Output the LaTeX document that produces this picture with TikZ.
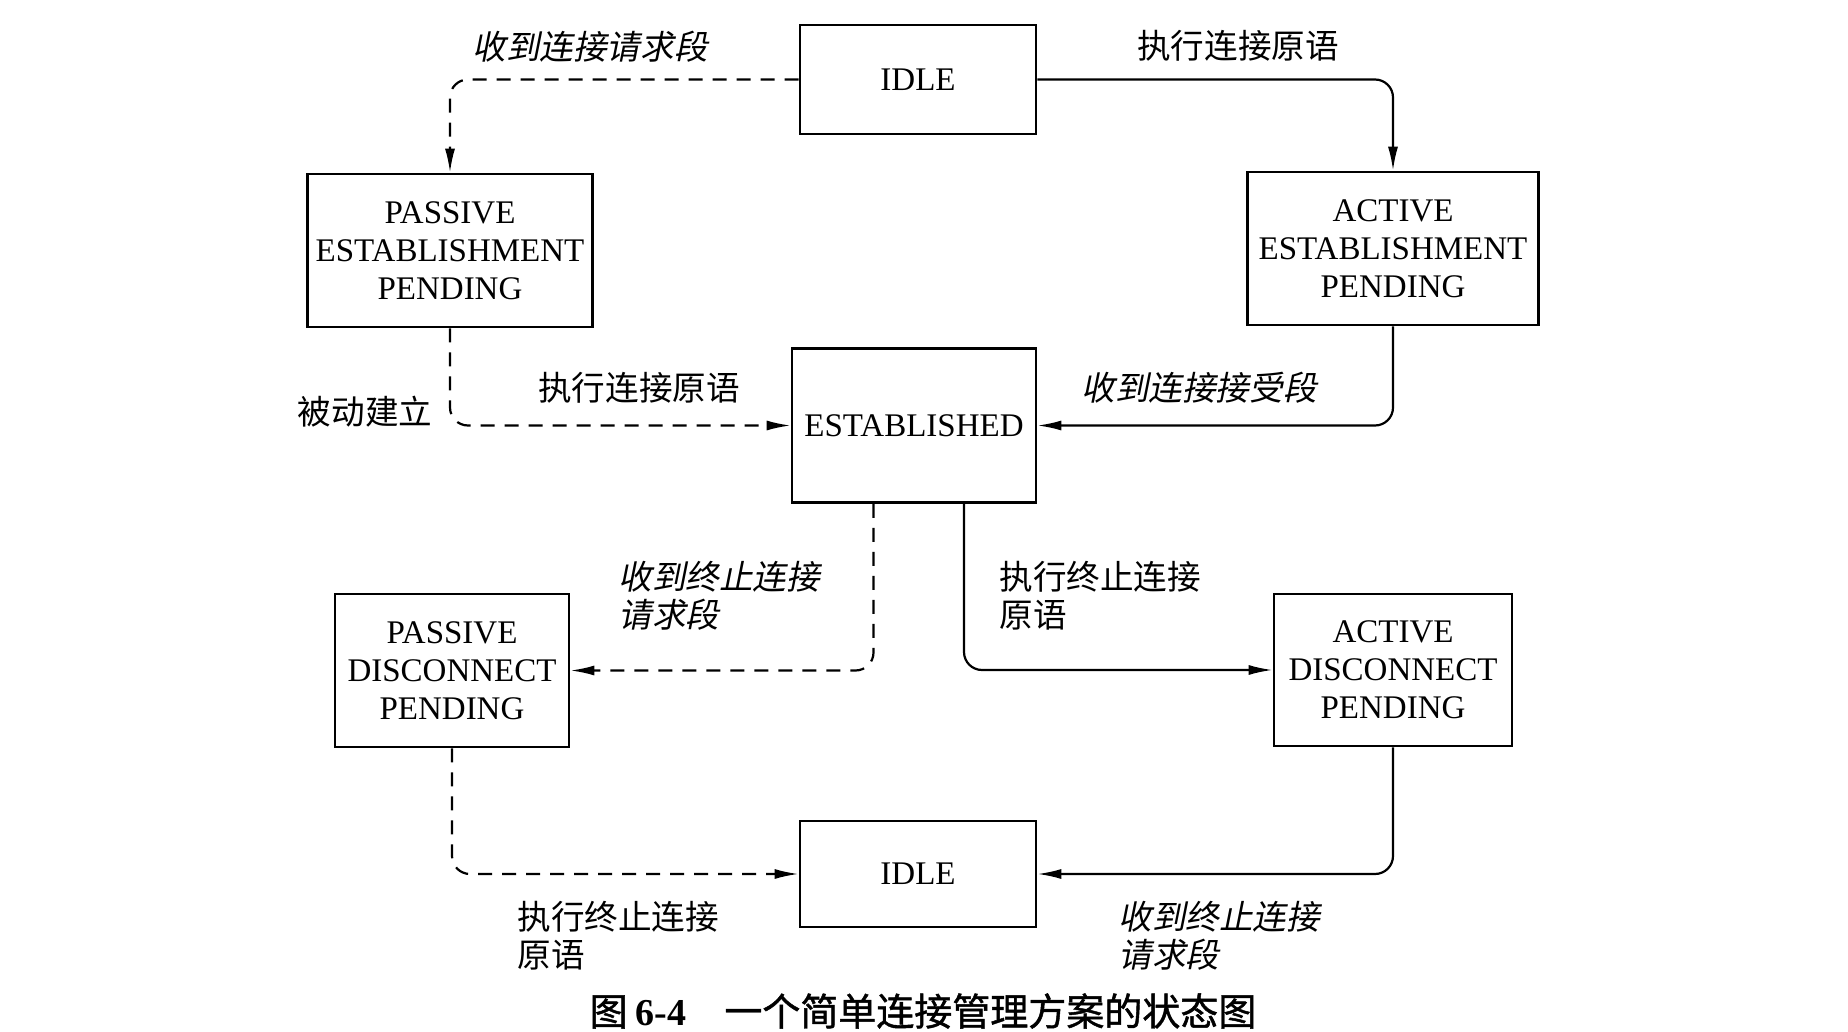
\documentclass[tikz,border=0pt]{standalone}
\usepackage{fontspec}
\setmainfont{Liberation Serif}
\newfontfamily\cjk{Noto Sans CJK SC}
\newfontfamily\cjkit[FakeSlant=0.2]{Noto Sans CJK SC}
\newfontfamily\cjkbold[FakeBold=1.2]{Noto Sans CJK SC}
\usetikzlibrary{arrows.meta}
\begin{document}
\begin{tikzpicture}[x=0.5pt,y=-0.5pt,
  state/.style={draw, line width=1.3pt, inner sep=0pt, align=center,
    font=\fontsize{16.5}{19}\selectfont},
  conn/.style={line width=1.1pt, rounded corners=9pt, -{Latex[length=12pt,width=5pt]}},
  dconn/.style={conn, dash pattern=on 7pt off 5pt},
  lab/.style={font=\cjk\fontsize{16.8}{18.9}\selectfont, inner sep=0pt, align=left},
  ilab/.style={font=\cjkit\fontsize{16.8}{18.9}\selectfont, inner sep=0pt, align=left}]
\fill[white] (0,0) rectangle (1848,1032);
\useasboundingbox (0,0) rectangle (1848,1032);

% states
\node[state, minimum width=118pt, minimum height=54.5pt] (idleA) at (918,79.5) {IDLE};
\node[state, minimum width=142.5pt, minimum height=76.5pt] (pep) at (450,250.5) {PASSIVE\\ESTABLISHMENT\\PENDING};
\node[state, minimum width=145.5pt, minimum height=76.5pt] (aep) at (1393,248.5) {ACTIVE\\ESTABLISHMENT\\PENDING};
\node[state, minimum width=122pt, minimum height=77pt] (est) at (914,425.5) {ESTABLISHED};
\node[state, minimum width=117pt, minimum height=76.5pt] (pdp) at (452,670.5) {PASSIVE\\DISCONNECT\\PENDING};
\node[state, minimum width=119pt, minimum height=76pt] (adp) at (1393,670) {ACTIVE\\DISCONNECT\\PENDING};
\node[state, minimum width=118pt, minimum height=53pt] (idleB) at (918,874) {IDLE};

% connectors
\draw[dconn] (idleA.west) -| (pep.north);
\draw[conn] (idleA.east) -| (aep.north);
\draw[dconn] (pep.south) |- (est.west);
\draw[conn] (aep.south) |- (est.east);
\draw[dconn] ([xshift=-20.25pt]est.south) |- (pdp.east);
\draw[conn] ([xshift=25pt]est.south) |- (adp.west);
\draw[dconn] (pdp.south) |- (idleB.west);
\draw[conn] (adp.south) |- (idleB.east);

% labels
\node[ilab] (l1) at (590,47) {收到连接请求段};
\node[lab] (l2) at (1238,46) {执行连接原语};
\node[lab] (l3) at (639,388) {执行连接原语};
\node[lab] (l4) at (365,412) {被动建立};
\node[ilab] (l5) at (1199,388) {收到连接接受段};
\node[ilab, anchor=west] (l6) at (618,596) {收到终止连接\\请求段};
\node[lab, anchor=west] (l7) at (999,596) {执行终止连接\\原语};
\node[lab, anchor=west] (l8) at (517,936) {执行终止连接\\原语};
\node[ilab, anchor=west] (l9) at (1118,936) {收到终止连接\\请求段};

% caption
\node[inner sep=0pt] (cap) at (923,1011) {\fontsize{19}{23}\selectfont{\cjkbold 图}\hspace{4pt}\textbf{6-4}\hspace{19pt}{\cjkbold 一个简单连接管理方案的状态图}};
\end{tikzpicture}
\end{document}
